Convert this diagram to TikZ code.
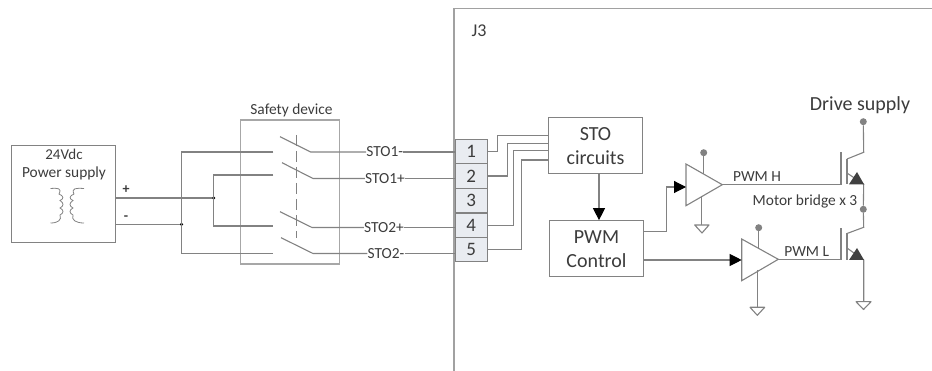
\documentclass[tikz,border=0pt]{standalone}
\usepackage{fontspec}
\setmainfont{Carlito}
\usetikzlibrary{arrows.meta}
\definecolor{wirecol}{HTML}{828282}
\definecolor{textcol}{HTML}{3C3C3C}
\definecolor{pincol}{HTML}{E9ECF1}
\tikzset{
  wire/.style={draw=wirecol, line width=1.1pt},
  flow/.style={wire, -{Triangle[length=12pt,width=12pt,color=black]}},
  lbl/.style={text=textcol, inner sep=0pt, font=\fontsize{15.4}{17}\selectfont},
  blockbox/.style={wire, fill=white, inner sep=0pt, text=textcol, align=center, font=\fontsize{20}{24}\selectfont},
  pinbox/.style={wire, fill=pincol, minimum width=32.5pt, minimum height=24.5pt, inner sep=0pt, text=textcol, font=\fontsize{19}{21}\selectfont},
  supply/.style={circle, fill=wirecol, minimum size=7pt, inner sep=0pt},
  joint/.style={circle, fill=black, minimum size=3.5pt, inner sep=0pt},
  gnd/.style={wire, fill=white, line join=round},
  frame/.style={draw=wirecol!75, line width=1.5pt}
}
\begin{document}
\begin{tikzpicture}[x=1pt, y=-1pt]
    \useasboundingbox (0,0) rectangle (932,371);
    % power supply
    \node[wire, minimum width=103.5pt, minimum height=96.5pt, inner sep=0pt] (psu) at (63.5,194) {};
    \node[lbl, font=\fontsize{15}{17}\selectfont] (psutop) at (64,154) {24Vdc};
    \node[lbl] (psubot) at (64,173) {Power supply};
    \draw[wire, line width=.8pt] (50.5,188.5) .. controls (58,188) and (62,188) .. (59,194) .. controls (64,196) and (64,199) .. (60,200.5)
        .. controls (64,203) and (64,206) .. (60,208) .. controls (64,210) and (64,213) .. (60,215) .. controls (62,220) and (58,223) .. (50.5,223);
    \draw[wire, line width=.8pt] (84,188.5) .. controls (76,188) and (71,188) .. (74,194) .. controls (69,196) and (69,199) .. (73,200.5)
        .. controls (69,203) and (69,206) .. (73,208) .. controls (69,210) and (69,213) .. (73,215) .. controls (71,220) and (76,223) .. (84,223);
    \node[lbl, font=\bfseries\fontsize{14}{16}\selectfont] (plus) at (126,190) {+};
    \node[lbl, font=\bfseries\fontsize{14}{16}\selectfont] (minus) at (126,218) {-};
    % safety device
    \node[wire, draw=wirecol!70, minimum width=98.5pt, minimum height=144pt, inner sep=0pt] (safety) at (290,192) {};
    \node[lbl] (safetylbl) at (291.5,110) {Safety device};
    \coordinate (plusend) at (115.3,198);
    \coordinate (minusend) at (115.3,224.3);
    \node[joint] (jplus) at (213.7,198) {};
    \node[joint] (jminus) at (181.5,224.3) {};
    \coordinate (sw1a) at (273.3,152);
    \coordinate (sw2a) at (273.3,175);
    \coordinate (sw3a) at (273.3,226);
    \coordinate (sw4a) at (273.3,253.5);
    \draw[wire] (plusend) -- (jplus);
    \draw[wire] (minusend) -- (jminus);
    \draw[wire] (sw1a) -- (181.5,152) -- (181.5,253.5) -- (sw4a);
    \draw[wire] (sw2a) -- (213.7,175) -- (213.7,226) -- (sw3a);
    \coordinate (dashtop) at (296,135);
    \coordinate (dashbot) at (296,238);
    \draw[wire, dash pattern=on 11pt off 5pt, line width=.8pt] (dashtop) -- (dashbot);
    \node[lbl] (sto1m) at (384.7,152) {STO1-};
    \node[lbl] (sto1p) at (385,178.5) {STO1+};
    \node[lbl] (sto2p) at (384,227.5) {STO2+};
    \node[lbl] (sto2m) at (386,253.5) {STO2-};
    \draw[wire] (280,136.7) -- (310.7,152) -- (sto1m.west);
    \draw[wire] (282,162.7) -- (313,178.5) -- (sto1p.west);
    \draw[wire] (280,211.7) -- (312,227.5) -- (sto2p.west);
    \draw[wire] (281,237.7) -- (313,253.5) -- (sto2m.west);
    % J3 side
    \coordinate (j3corner) at (454,8.5);
    \coordinate (j3right) at (932,8.5);
    \coordinate (j3bot) at (454,371);
    \draw[frame] (j3right) -- (j3corner) -- (j3bot);
    \node[lbl, font=\fontsize{18}{20}\selectfont] (j3) at (479,31) {J3};
    \foreach \n/\y in {1/151.5, 2/176, 3/200.5, 4/225.5, 5/249.5}
        \node[pinbox] (pin\n) at (471.3,\y) {\n};
    \draw[wire] (sto1m.east) -- (pin1.west |- sto1m.east);
    \draw[wire] (sto1p.east) -- (pin2.west |- sto1p.east);
    \draw[wire] (sto2p.east) -- (pin4.west |- sto2p.east);
    \draw[wire] (sto2m.east) -- (pin5.west |- sto2m.east);
    \node[blockbox, minimum width=94.5pt, minimum height=56.5pt] (sto) at (595.5,145.7) {STO\\circuits};
    \node[blockbox, minimum width=94.5pt, minimum height=56pt] (pwm) at (596.5,248.7) {PWM\\Control};
    \draw[wire] (pin1.east) -- (497.3,151.5) -- (497.3,135.7) -- (sto.west |- 0,135.7);
    \draw[wire] (pin2.east) -- (507.7,176) -- (507.7,143.3) -- (sto.west |- 0,143.3);
    \draw[wire] (pin4.east) -- (513.3,225.5) -- (513.3,150.7) -- (sto.west |- 0,150.7);
    \draw[wire] (pin5.east) -- (521.3,249.5) -- (521.3,160) -- (sto.west |- 0,160);
    \draw[flow] (sto.south -| 599,0) -- (pwm.north -| 599,0);
    % drivers
    \coordinate (amphin) at (686,187);
    \coordinate (amplin) at (741.7,260);
    \draw[wire, fill=white] (686,164) -- (722.3,184.7) -- (686,205.7) -- cycle;
    \draw[wire, fill=white] (741.7,239) -- (778.3,259.3) -- (741.7,280.7) -- cycle;
    \draw[flow] (pwm.east |- 0,231.7) -- (666.7,231.7) -- (666.7,187) -- (amphin);
    \draw[flow] (pwm.east |- 0,260) -- (amplin);
    \node[supply] (vcch) at (703.7,152.7) {};
    \node[supply] (vccl) at (758.7,227.7) {};
    \draw[wire] (vcch) -- (703.7,174);
    \draw[wire] (vccl) -- (758.7,249);
    \draw[wire] (701.7,196) -- (701.7,225);
    \draw[wire] (757.3,270) -- (757.3,307.3);
    \draw[gnd] (694.7,225) -- (709,225) -- (702,233) -- cycle;
    \draw[gnd] (750,307.3) -- (764.7,307.3) -- (757.3,315.3) -- cycle;
    \node[lbl] (pwmh) at (757,177) {PWM H};
    \node[lbl] (pwml) at (806.7,252) {PWM L};
    \node[lbl] (bridge) at (805,201) {Motor bridge x 3};
    \node[lbl, font=\fontsize{20}{22}\selectfont] (drive) at (860,105) {Drive supply};
    % transistors
    \coordinate (gateh) at (841,184.7);
    \coordinate (gatel) at (841,259.5);
    \draw[wire] (722.3,184.7) -- (gateh) -- (841,152.3);
    \draw[wire] (778.3,259.5) -- (gatel) -- (841,228.3);
    \draw[wire] (847,159) -- (847,184.3);
    \draw[wire] (847,233.5) -- (847,260);
    \node[supply] (vbus) at (863.3,121.7) {};
    \node[supply] (mid) at (863.3,209.3) {};
    \coordinate (gndq) at (863.7,301.7);
    \draw[wire] (vbus) -- (863.7,152.3) -- (847,159);
    \draw[wire] (847,173) -- (863.7,184.3) -- (mid) -- (863.7,227.3) -- (847,233.5);
    \draw[wire] (847,248) -- (863.7,260) -- (gndq);
    \fill[black!75] (857,172) -- (864,184.3) -- (849,184.3) -- cycle;
    \fill[black!75] (857,248) -- (864,260) -- (849,260) -- cycle;
    \draw[gnd] (856,301.7) -- (871,301.7) -- (863.5,309.5) -- cycle;
\end{tikzpicture}
\end{document}
